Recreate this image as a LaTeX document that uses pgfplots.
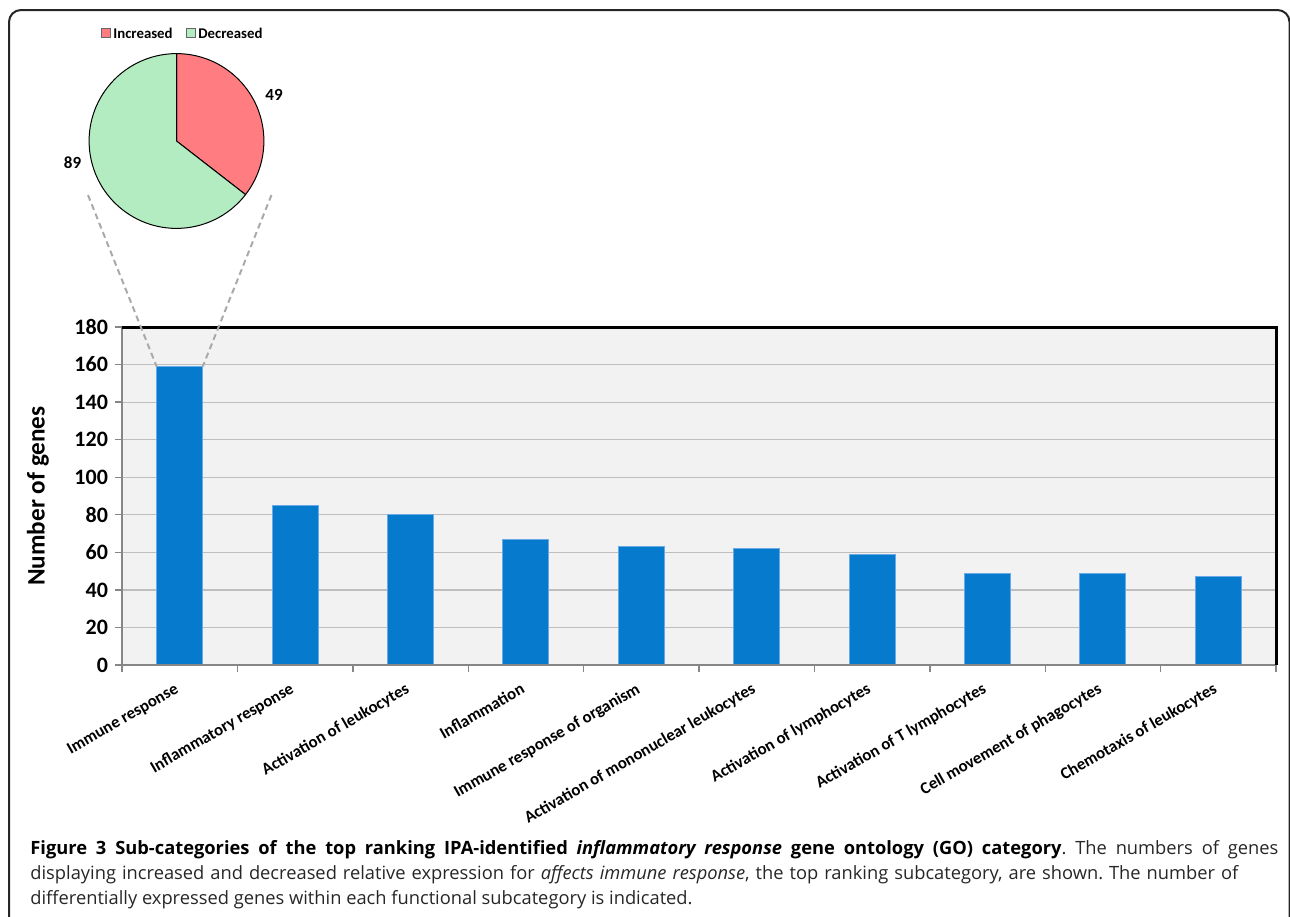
\documentclass[border=0pt]{standalone}
\usepackage{pgfplots}
\pgfplotsset{compat=1.18}
\usepackage{fontspec}
\setmainfont{Carlito}
\newfontfamily\capfont{Open Sans}

\definecolor{barblue}{RGB}{6,122,205}
\definecolor{baredge}{RGB}{105,170,230}
\definecolor{plotbg}{RGB}{242,242,242}
\definecolor{gridgray}{RGB}{190,190,190}
\definecolor{axisgray}{RGB}{134,134,134}
\definecolor{incred}{RGB}{255,124,128}
\definecolor{decgreen}{RGB}{180,236,194}
\definecolor{dashgray}{RGB}{170,170,170}

% pie data: increased / decreased genes for "Immune response"
\def\nInc{49}
\def\nDec{89}

\begin{document}
\frenchspacing
\begin{tikzpicture}[x=0.5pt,y=-0.5pt]
\useasboundingbox (0,0) rectangle (1290,916);
\clip (0,0) rectangle (1290,916);

% outer frame
\draw[line width=1pt, black!85, rounded corners=6pt] (9,10) rectangle (1289.5,980);

% ---- pie ----
\pgfmathsetmacro\angInc{90-360*(\nInc/(\nInc+\nDec))}
\begin{scope}[shift={(176.5,141)}]
  \filldraw[fill=incred, draw=black, line width=0.5pt]
    (0pt,0pt) -- (90:43.7pt) arc[start angle=90, end angle=\angInc, radius=43.7pt] -- cycle;
  \filldraw[fill=decgreen, draw=black, line width=0.5pt]
    (0pt,0pt) -- (\angInc:43.7pt) arc[start angle=\angInc, end angle=-270, radius=43.7pt] -- cycle;
\end{scope}
\node[font=\bfseries\fontsize{8.5}{10}\selectfont] at (274,95) {\nInc};
\node[font=\bfseries\fontsize{8.5}{10}\selectfont] at (72.5,163) {\nDec};

% pie legend
\filldraw[fill=incred, draw=black!60, line width=0.4pt] (101,28) rectangle (110.5,37.5);
\node[anchor=west, inner sep=0pt, font=\bfseries\fontsize{7.4}{9}\selectfont] at (113,33) {Increased};
\filldraw[fill=decgreen, draw=black!60, line width=0.4pt] (186,28) rectangle (195.5,37.5);
\node[anchor=west, inner sep=0pt, font=\bfseries\fontsize{7.4}{9}\selectfont] at (198,33) {Decreased};

% ---- bar chart ----
\begin{axis}[
  at={(61pt,-332.5pt)}, anchor=south west,
  width=577pt, height=169pt, scale only axis,
  xmin=-0.5, xmax=9.5, ymin=0, ymax=180,
  ytick={0,20,...,180},
  xtick={0,...,9},
  xticklabels={Immune response, Inflammatory response, Activation of leukocytes,
    Inflammation, Immune response of organism, Activation of mononuclear leukocytes,
    Activation of lymphocytes, Activation of T lymphocytes,
    Cell movement of phagocytes, Chemotaxis of leukocytes},
  minor xtick={-0.5,0.5,...,9.5},
  major x tick style={draw=none},
  tick align=outside, xtick pos=bottom, ytick pos=left,
  major tick length=3.5pt, minor tick length=3.5pt,
  tick style={axisgray, line width=0.7pt},
  ymajorgrids, grid style={gridgray, line width=0.6pt},
  axis background/.style={fill=plotbg},
  axis line style={draw=none},
  /pgf/number format/assume math mode=true,
  yticklabel style={font=\bfseries\fontsize{11}{13}\selectfont},
  xticklabel style={font=\bfseries\fontsize{8.4}{10}\selectfont, yshift=-10pt,
    rotate=30, anchor=base east, inner sep=0pt},
  ylabel={Number of genes},
  ylabel style={font=\bfseries\fontsize{12.6}{15}\selectfont,
    at={(rel axis cs:0,0.5)}, anchor=center, yshift=42pt},
  clip=false,
]
\addplot[ybar, bar width=0.4, fill=barblue, draw=baredge, line width=0.5pt]
  coordinates {(0,159) (1,85) (2,80) (3,67) (4,63) (5,62) (6,59) (7,49) (8,49) (9,47)};
\draw[axisgray, line width=0.8pt] (rel axis cs:0,1) -- (rel axis cs:0,0) -- (rel axis cs:1,0);
\draw[black, line width=1.5pt] (rel axis cs:0,1) -- (rel axis cs:1,1) -- (rel axis cs:1,0);
\coordinate (barL) at (axis cs:-0.2,159);
\coordinate (barR) at (axis cs:0.2,159);
\end{axis}

% connectors from pie to first bar
\draw[dashgray, line width=1pt, dash pattern=on 3pt off 2pt] (88,195) -- (barL);
\draw[dashgray, line width=1pt, dash pattern=on 3pt off 2pt] (271.5,195) -- (barR);

% caption
\begin{scope}[font=\capfont\fontsize{9.15}{12.5}\selectfont]
\node[anchor=base west, inner sep=0pt] at (30,854) {\makebox[624pt][s]{\textbf{Figure 3 Sub-categories of the top ranking IPA-identified \textit{inflammatory response} gene ontology (GO) category}\textcolor{black!85}{. The numbers of genes}}};
\node[anchor=base west, inner sep=0pt, text=black!85] at (30,879) {\makebox[604pt][s]{displaying increased and decreased relative expression for \textit{affects immune response}, the top ranking subcategory, are shown. The number of}};
\node[anchor=base west, inner sep=0pt, text=black!85] at (30,904) {differentially expressed genes within each functional subcategory is indicated.};
\end{scope}
\end{tikzpicture}
\end{document}
